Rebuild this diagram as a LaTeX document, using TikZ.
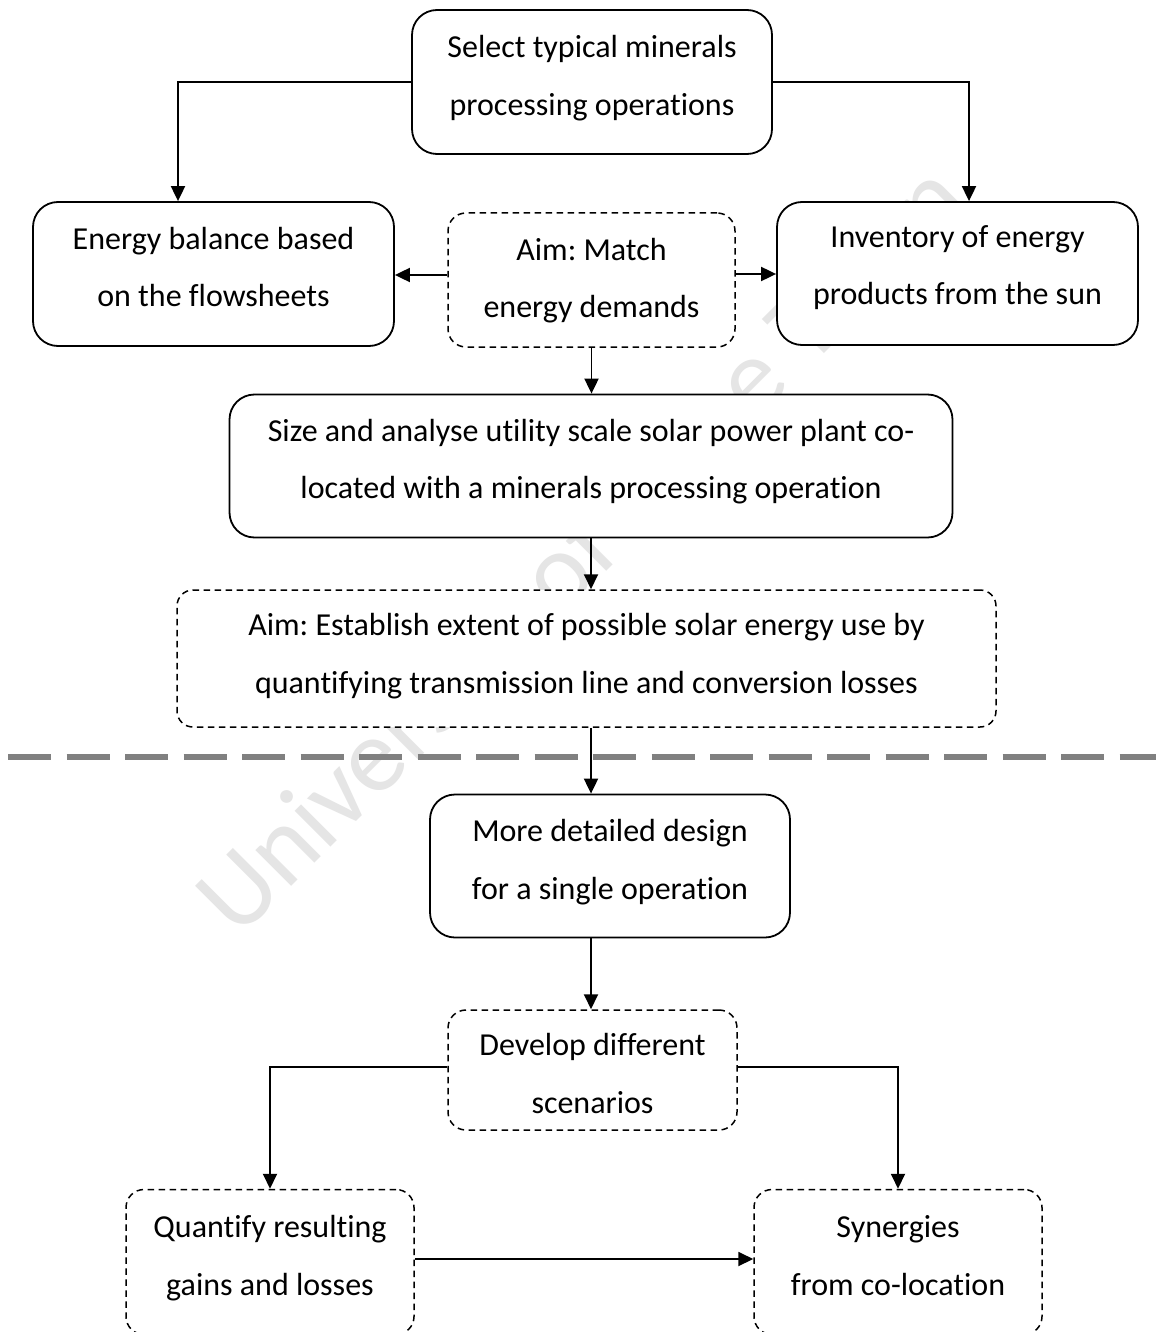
\documentclass[tikz,border=0pt]{standalone}
\usepackage{fontspec}
\setmainfont{Carlito}[Ligatures={NoCommon}]
\usetikzlibrary{arrows.meta}
\frenchspacing

% two-line box label; #1 and #2 add extra room above / below the lines
\newcommand\boxtext[4]{%
  \leavevmode\vrule width0pt height\dimexpr25pt+#1pt\relax depth0pt #3\\
  #4\vrule width0pt height0pt depth\dimexpr8pt+#2pt\relax}

\tikzset{
  solidbox/.style={draw, line width=1.8pt, rounded corners=25pt, fill=white,
    align=center, inner sep=0pt, font=\fontsize{32}{57.5}\selectfont},
  dashbox/.style={draw, line width=1.5pt, dash pattern=on 6.5pt off 4.5pt,
    rounded corners=18pt, fill=white, align=center, inner sep=0pt,
    font=\fontsize{32}{57.5}\selectfont},
  link/.style={line width=1.9pt, -{Triangle[length=15pt,width=14pt]}},
  divider/.style={line width=6pt, draw=black!50, dash pattern=on 43pt off 15.5pt},
  wmark/.style={text=black!10, font=\fontsize{106}{106}\selectfont, rotate=45,
    anchor=base west, inner sep=0pt}
}

\begin{document}
\begin{tikzpicture}[x=1pt, y=-1pt]
  \fill[white] (0,0) rectangle (1156,1332);
  \useasboundingbox (0,0) rectangle (1156,1332);
  \clip (0,0) rectangle (1156,1332);

  % background watermark
  \node[wmark] (wm) at (238,940) {University of Cape Town};

  % upper part
  \node[solidbox, minimum width=360pt, minimum height=144pt] (sel) at (592,82)
    {\boxtext{0}{8}{Select typical minerals}{processing operations}};
  \node[solidbox, minimum width=361pt, minimum height=144pt] (enb) at (213.5,274)
    {\boxtext{0}{9}{Energy balance based}{on the flowsheets}};
  \node[dashbox, minimum width=287pt, minimum height=134pt] (aim) at (591.5,280)
    {\boxtext{1}{0}{Aim: Match}{energy demands}};
  \node[solidbox, minimum width=361pt, minimum height=143pt] (inv) at (957.5,273.5)
    {\boxtext{0}{12}{Inventory of energy}{products from the sun}};
  \node[solidbox, minimum width=723pt, minimum height=143pt] (size) at (591,466)
    {\boxtext{0}{9}{Size and analyse utility scale solar power plant co-}{located with a minerals processing operation}};
  \node[dashbox, rounded corners=16pt, minimum width=819pt, minimum height=137pt] (estab) at (586.5,658.5)
    {\boxtext{0}{5}{Aim: Establish extent of possible solar energy use by}{quantifying transmission line and conversion losses}};

  % divider between the two stages
  \coordinate (divL) at (8,757);
  \coordinate (divR) at (1156,757);
  \draw[divider] (divL) -- (divR);

  % lower part
  \node[solidbox, minimum width=360pt, minimum height=143pt] (detail) at (610,866)
    {\boxtext{0}{8}{More detailed design}{for a single operation}};
  \node[dashbox, minimum width=289pt, minimum height=120pt] (scen) at (592.5,1070)
    {\boxtext{12}{0}{Develop different}{scenarios}};
  \node[dashbox, minimum width=288pt, minimum height=145pt] (quant) at (270,1262)
    {\boxtext{0}{8}{Quantify resulting}{gains and losses}};
  \node[dashbox, minimum width=288pt, minimum height=145pt] (syn) at (898,1262)
    {\boxtext{0}{8}{Synergies}{from co-location}};

  % connectors
  \coordinate (lbend) at (178,82);
  \coordinate (rbend) at (969,82);
  \draw[link] (sel.west) -- (lbend) -- (lbend |- enb.north);
  \draw[link] (sel.east) -- (rbend) -- (rbend |- inv.north);
  \draw[link] ([yshift=5pt]aim.west) -- ([yshift=5pt]aim.west -| enb.east);
  \draw[link] ([yshift=6pt]aim.east) -- ([yshift=6pt]aim.east -| inv.west);
  \draw[link] (aim.south) -- (aim.south |- size.north);
  \draw[link] (size.south) -- (size.south |- estab.north);
  \draw[link] (size.south |- estab.south) -- (size.south |- detail.north);
  \draw[link] (size.south |- detail.south) -- (size.south |- scen.north);
  \draw[link] ([yshift=3pt]scen.west) -| (quant.north);
  \draw[link] ([yshift=3pt]scen.east) -| (syn.north);
  \draw[link] ([yshift=3pt]quant.east) -- ([yshift=3pt]quant.east -| syn.west);
\end{tikzpicture}
\end{document}
